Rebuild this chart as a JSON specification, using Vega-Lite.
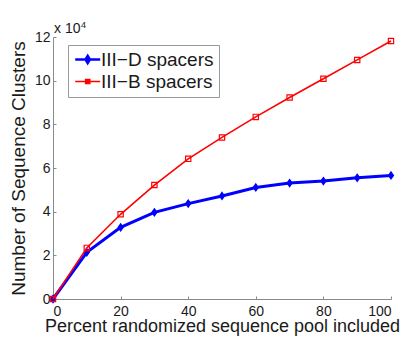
{
  "$schema": "https://vega.github.io/schema/vega-lite/v6.json",
  "width": 338,
  "height": 262,
  "autosize": "none",
  "padding": {"left": 53, "top": 37, "right": 23, "bottom": 38},
  "background": "white",
  "config": {
    "view": {"stroke": null},
    "font": "Liberation Sans",
    "axis": {"grid": false, "domainColor": "#8a8a8a", "tickColor": "#8a8a8a", "labelColor": "#1a1a1a", "titleColor": "#1a1a1a", "labelFont": "Liberation Sans", "titleFont": "Liberation Sans", "titleFontWeight": "normal"}
  },
  "data": {"values": [
    {"pct": 0, "series": "III−D spacers", "clusters": 0},
    {"pct": 10, "series": "III−D spacers", "clusters": 21400},
    {"pct": 20, "series": "III−D spacers", "clusters": 32800},
    {"pct": 30, "series": "III−D spacers", "clusters": 39700},
    {"pct": 40, "series": "III−D spacers", "clusters": 43700},
    {"pct": 50, "series": "III−D spacers", "clusters": 47200},
    {"pct": 60, "series": "III−D spacers", "clusters": 51100},
    {"pct": 70, "series": "III−D spacers", "clusters": 53100},
    {"pct": 80, "series": "III−D spacers", "clusters": 54000},
    {"pct": 90, "series": "III−D spacers", "clusters": 55500},
    {"pct": 100, "series": "III−D spacers", "clusters": 56600},
    {"pct": 0, "series": "III−B spacers", "clusters": 0},
    {"pct": 10, "series": "III−B spacers", "clusters": 23400},
    {"pct": 20, "series": "III−B spacers", "clusters": 38800},
    {"pct": 30, "series": "III−B spacers", "clusters": 52200},
    {"pct": 40, "series": "III−B spacers", "clusters": 64200},
    {"pct": 50, "series": "III−B spacers", "clusters": 74000},
    {"pct": 60, "series": "III−B spacers", "clusters": 83400},
    {"pct": 70, "series": "III−B spacers", "clusters": 92300},
    {"pct": 80, "series": "III−B spacers", "clusters": 100900},
    {"pct": 90, "series": "III−B spacers", "clusters": 109500},
    {"pct": 100, "series": "III−B spacers", "clusters": 118200}
  ]},
  "encoding": {
    "x": {"field": "pct", "type": "quantitative", "scale": {"domain": [0, 100], "nice": false},
      "axis": {"title": "Percent randomized sequence pool included", "values": [0, 20, 40, 60, 80, 100], "tickSize": -3, "labelPadding": 8, "labelFontSize": 14, "titleFontSize": 18, "titlePadding": -1}},
    "y": {"field": "clusters", "type": "quantitative", "scale": {"domain": [0, 120000], "nice": false},
      "axis": {"title": "Number of Sequence Clusters", "values": [0, 20000, 40000, 60000, 80000, 100000, 120000], "labelExpr": "datum.value / 10000", "tickSize": -3, "labelPadding": 6, "labelFontSize": 14, "titleFontSize": 19, "titlePadding": 6}},
    "color": {"field": "series", "type": "nominal", "scale": {"domain": ["III−D spacers", "III−B spacers"], "range": ["#0000ff", "#ff0000"]},
      "legend": {"title": null, "orient": "none", "legendX": 15, "legendY": 8, "strokeColor": "#999", "fillColor": "white", "padding": 5, "labelFontSize": 19, "labelFont": "Liberation Sans", "labelColor": "#1a1a1a", "rowPadding": 2, "symbolSize": 400, "labelOffset": 9,
        "encode": {"symbols": {"update": {
          "shape": {"signal": "datum.value == 'III−D spacers' ? 'M-0.73,0H1.77M0.52,-0.36L0.74,0L0.52,0.36L0.3,0Z' : 'M-0.73,0H0.3M0.74,0H1.77M0.3,-0.22H0.74V0.22H0.3Z'"},
          "strokeWidth": {"signal": "datum.value == 'III−D spacers' ? 2.5 : 1.3"},
          "fill": {"signal": "datum.value == 'III−D spacers' ? '#0000ff' : 'transparent'"},
          "size": {"value": 400}
        }}}}}
  },
  "layer": [
    {"transform": [{"filter": "datum.series == 'III−D spacers'"}],
     "mark": {"type": "line", "strokeWidth": 3}},
    {"transform": [{"filter": "datum.series == 'III−D spacers'"}],
     "mark": {"type": "point", "filled": true, "opacity": 1, "shape": "M0,-1L0.7,0L0,1L-0.7,0Z", "size": 45, "strokeWidth": 1.5, "stroke": "#0000ff"}},
    {"transform": [{"filter": "datum.series == 'III−B spacers'"}],
     "mark": {"type": "line", "strokeWidth": 1.6}},
    {"transform": [{"filter": "datum.series == 'III−B spacers'"}],
     "mark": {"type": "point", "filled": false, "opacity": 1, "shape": "square", "size": 28, "strokeWidth": 1.2}},
    {"data": {"values": [{"pct": 0, "clusters": 120000, "label": "x 10"}]},
     "mark": {"type": "text", "align": "left", "baseline": "alphabetic", "dx": 1, "dy": -4, "fontSize": 14, "font": "Liberation Sans"},
     "encoding": {"x": {"field": "pct", "type": "quantitative"}, "y": {"field": "clusters", "type": "quantitative"}, "text": {"field": "label"}, "color": {"value": "#1a1a1a"}}},
    {"data": {"values": [{"pct": 0, "clusters": 120000, "label": "4"}]},
     "mark": {"type": "text", "align": "left", "baseline": "alphabetic", "dx": 28, "dy": -9, "fontSize": 9, "font": "Liberation Sans"},
     "encoding": {"x": {"field": "pct", "type": "quantitative"}, "y": {"field": "clusters", "type": "quantitative"}, "text": {"field": "label"}, "color": {"value": "#1a1a1a"}}}
  ]
}
